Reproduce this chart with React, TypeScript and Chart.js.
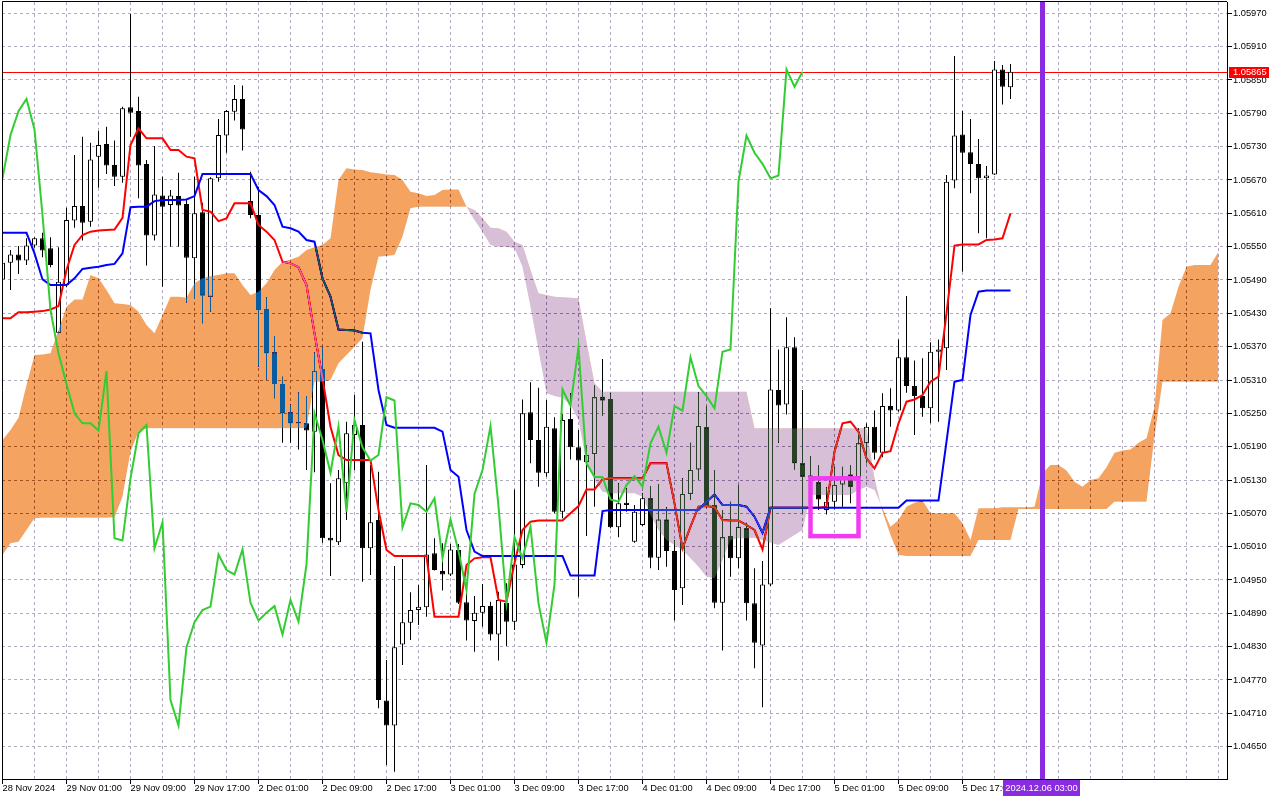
import React, { useEffect, useRef } from 'react';
import { Chart, registerables } from 'chart.js';

// EURUSD H1, bars from 28 Nov 17:00 to 5 Dec 23:00, Ichimoku Kinko Hyo (9, 26, 52)
const timeLabels = [
  '28 Nov 2024', '29 Nov 01:00', '29 Nov 09:00', '29 Nov 17:00', '2 Dec 01:00', '2 Dec 09:00',
  '2 Dec 17:00', '3 Dec 01:00', '3 Dec 09:00', '3 Dec 17:00', '4 Dec 01:00', '4 Dec 09:00',
  '4 Dec 17:00', '5 Dec 01:00', '5 Dec 09:00', '5 Dec 17:00',
];
const LABEL_EVERY = 8; // bars between time labels
const GRID_EVERY = 4; // bars between vertical grid lines

const priceTicks = [
  1.0465, 1.0471, 1.0477, 1.0483, 1.0489, 1.0495, 1.0501, 1.0507, 1.0513, 1.0519, 1.0525, 1.0531,
  1.0537, 1.0543, 1.0549, 1.0555, 1.0561, 1.0567, 1.0573, 1.0579, 1.0585, 1.0591, 1.0597,
];

const opens = [
  1.05491, 1.05521, 1.05536, 1.05525, 1.05552, 1.05565, 1.05547, 1.05395, 1.05481, 1.05597,
  1.05623, 1.05595, 1.05712, 1.05735, 1.05697, 1.05676, 1.05801, 1.05794, 1.05699, 1.05570,
  1.05642, 1.05625, 1.05641, 1.05627, 1.05529, 1.05612, 1.05460, 1.05673, 1.05750, 1.05793,
  1.05816, 1.05632, 1.05607, 1.05438, 1.05360, 1.05303, 1.05252, 1.05234, 1.05232, 1.05217,
  1.05330, 1.05026, 1.05018, 1.05124, 1.05211, 1.05229, 1.05007, 1.05058, 1.04733, 1.04688,
  1.04834, 1.04873, 1.04896, 1.04901, 1.04998, 1.04966, 1.04960, 1.05004, 1.04910, 1.04876,
  1.04891, 1.04903, 1.04852, 1.04909, 1.04875, 1.04977, 1.05252, 1.05202, 1.05142, 1.05223,
  1.05073, 1.05240, 1.05189, 1.05162, 1.05177, 1.05280, 1.05276, 1.05045, 1.05089, 1.05019,
  1.05049, 1.05097, 1.04990, 1.05059, 1.05002, 1.04935, 1.05105, 1.05149, 1.05225, 1.05085,
  1.04909, 1.05029, 1.04989, 1.05043, 1.04908, 1.04832, 1.04942, 1.05292, 1.05266, 1.05369,
  1.05160, 1.05138, 1.05126, 1.05076, 1.05091, 1.05122, 1.05140, 1.05135, 1.05196, 1.05226,
  1.05179, 1.05263, 1.05255, 1.05351, 1.05299, 1.05281, 1.05259, 1.05361, 1.05367, 1.05669,
  1.05752, 1.05720, 1.05699, 1.05673, 1.05680, 1.05869, 1.05837,
];
const highs = [
  1.05535, 1.05544, 1.05551, 1.05565, 1.05567, 1.05575, 1.05567, 1.05549, 1.05620, 1.05715,
  1.05748, 1.05737, 1.05758, 1.05766, 1.05741, 1.05802, 1.05969, 1.05820, 1.05706, 1.05731,
  1.05676, 1.05652, 1.05683, 1.05634, 1.05676, 1.05629, 1.05675, 1.05780, 1.05796, 1.05841,
  1.05840, 1.05685, 1.05658, 1.05459, 1.05389, 1.05316, 1.05266, 1.05288, 1.05281, 1.05360,
  1.05370, 1.05124, 1.05148, 1.05235, 1.05283, 1.05379, 1.05157, 1.05145, 1.04806, 1.04975,
  1.04988, 1.04928, 1.04941, 1.05157, 1.05025, 1.05016, 1.05015, 1.05015, 1.04933, 1.04921,
  1.04943, 1.04911, 1.04929, 1.04944, 1.05113, 1.05275, 1.05306, 1.05296, 1.05274, 1.05243,
  1.05249, 1.05286, 1.05220, 1.05193, 1.05300, 1.05348, 1.05286, 1.05124, 1.05115, 1.05085,
  1.05106, 1.05119, 1.05123, 1.05081, 1.05022, 1.05133, 1.05197, 1.05288, 1.05263, 1.05148,
  1.05076, 1.05091, 1.05121, 1.05053, 1.04971, 1.04984, 1.05439, 1.05365, 1.05423, 1.05387,
  1.05292, 1.05173, 1.05156, 1.05117, 1.05153, 1.05154, 1.05156, 1.05223, 1.05232, 1.05255,
  1.05286, 1.05295, 1.05383, 1.05461, 1.05345, 1.05349, 1.05378, 1.05383, 1.05679, 1.05893,
  1.05794, 1.05780, 1.05744, 1.05695, 1.05884, 1.05877, 1.05879,
];
const lows = [
  1.05472, 1.05472, 1.05501, 1.05517, 1.05548, 1.05531, 1.05513, 1.05394, 1.05477, 1.05584,
  1.05561, 1.05586, 1.05656, 1.05681, 1.05659, 1.05665, 1.05748, 1.05637, 1.05516, 1.05561,
  1.05478, 1.05550, 1.05550, 1.05449, 1.05456, 1.05412, 1.05433, 1.05667, 1.05719, 1.05777,
  1.05723, 1.05601, 1.05334, 1.05310, 1.05277, 1.05197, 1.05197, 1.05185, 1.05148, 1.05144,
  1.05017, 1.04957, 1.05013, 1.05058, 1.05148, 1.04947, 1.04959, 1.04719, 1.04617, 1.04605,
  1.04797, 1.04842, 1.04869, 1.04884, 1.04967, 1.04931, 1.04957, 1.04907, 1.04841, 1.04821,
  1.04866, 1.04841, 1.04805, 1.04831, 1.04860, 1.04971, 1.05160, 1.05118, 1.05136, 1.05070,
  1.05061, 1.05167, 1.04920, 1.05029, 1.05082, 1.05246, 1.05043, 1.05027, 1.05073, 1.05017,
  1.05047, 1.04971, 1.04968, 1.04974, 1.04877, 1.04905, 1.05094, 1.05130, 1.05079, 1.04899,
  1.04823, 1.04956, 1.04971, 1.04877, 1.04791, 1.04721, 1.04939, 1.05197, 1.05248, 1.05149,
  1.05070, 1.05130, 1.05076, 1.05068, 1.05077, 1.05082, 1.05088, 1.05132, 1.05160, 1.05167,
  1.05171, 1.05226, 1.05253, 1.05287, 1.05211, 1.05244, 1.05232, 1.05235, 1.05328, 1.05655,
  1.05505, 1.05646, 1.05574, 1.05565, 1.05679, 1.05806, 1.05816,
];
const closes = [
  1.05521, 1.05536, 1.05525, 1.05552, 1.05565, 1.05543, 1.05517, 1.05487, 1.05598, 1.05623,
  1.05593, 1.05707, 1.05733, 1.05696, 1.05676, 1.05799, 1.05791, 1.05696, 1.05570, 1.05644,
  1.05622, 1.05642, 1.05624, 1.05530, 1.05610, 1.05462, 1.05673, 1.05751, 1.05794, 1.05816,
  1.05761, 1.05607, 1.05436, 1.05358, 1.05303, 1.05250, 1.05232, 1.05232, 1.05219, 1.05326,
  1.05025, 1.05021, 1.05133, 1.05214, 1.05229, 1.05007, 1.05054, 1.04734, 1.04688, 1.04829,
  1.04874, 1.04896, 1.04902, 1.04996, 1.04968, 1.04960, 1.05005, 1.04909, 1.04877, 1.04891,
  1.04903, 1.04852, 1.04914, 1.04875, 1.04978, 1.05250, 1.05202, 1.05143, 1.05226, 1.05073,
  1.05238, 1.05189, 1.05165, 1.05175, 1.05279, 1.05273, 1.05045, 1.05088, 1.05085, 1.05073,
  1.05097, 1.04990, 1.05059, 1.05002, 1.04932, 1.05105, 1.05148, 1.05227, 1.05083, 1.04909,
  1.05027, 1.04989, 1.05046, 1.04908, 1.04837, 1.04942, 1.05293, 1.05264, 1.05369, 1.05160,
  1.05136, 1.05135, 1.05095, 1.05091, 1.05121, 1.05137, 1.05118, 1.05196, 1.05226, 1.05179,
  1.05263, 1.05255, 1.05351, 1.05299, 1.05281, 1.05259, 1.05361, 1.05365, 1.05667, 1.05750,
  1.05719, 1.05699, 1.05673, 1.05678, 1.05869, 1.05838, 1.05865,
];

const tenkan = [
  1.05421, 1.05421, 1.05432, 1.05432, 1.05433, 1.05434, 1.05437, 1.05443, 1.05508, 1.05553,
  1.05571, 1.05577, 1.05579, 1.05580, 1.05581, 1.05602, 1.05733, 1.05763, 1.05745, 1.05745,
  1.05745, 1.05724, 1.05724, 1.05712, 1.05709, 1.05616, 1.05613, 1.05596, 1.05601, 1.05628,
  1.05628, 1.05628, 1.05589, 1.05577, 1.05562, 1.05523, 1.05520, 1.05513, 1.05481, 1.05394,
  1.05313, 1.05226, 1.05175, 1.05166, 1.05166, 1.05166, 1.05166, 1.05076, 1.05004, 1.04993,
  1.04993, 1.04993, 1.04993, 1.04993, 1.04884, 1.04884, 1.04884, 1.04884, 1.04977, 1.04989,
  1.04991, 1.04991, 1.04914, 1.04911, 1.04980, 1.05040, 1.05055, 1.05057, 1.05057, 1.05057,
  1.05057, 1.05070, 1.05083, 1.05113, 1.05113, 1.05131, 1.05133, 1.05133, 1.05133, 1.05133,
  1.05133, 1.05160, 1.05160, 1.05160, 1.05088, 1.05007, 1.05046, 1.05082, 1.05083, 1.05081,
  1.05058, 1.05057, 1.05057, 1.05049, 1.05040, 1.05005, 1.05080, 1.05080, 1.05080, 1.05080,
  1.05080, 1.05080, 1.05080, 1.05082, 1.05181, 1.05232, 1.05235, 1.05217, 1.05169, 1.05151,
  1.05179, 1.05182, 1.05232, 1.05271, 1.05275, 1.05283, 1.05307, 1.05316, 1.05430, 1.05552,
  1.05554, 1.05554, 1.05554, 1.05562, 1.05563, 1.05565, 1.05610,
];
const kijun = [
  1.05575, 1.05575, 1.05575, 1.05575, 1.05538, 1.05491, 1.05481, 1.05481, 1.05481, 1.05493,
  1.05510, 1.05512, 1.05514, 1.05517, 1.05519, 1.05538, 1.05621, 1.05622, 1.05622, 1.05632,
  1.05634, 1.05634, 1.05634, 1.05635, 1.05641, 1.05681, 1.05681, 1.05681, 1.05681, 1.05681,
  1.05681, 1.05681, 1.05652, 1.05641, 1.05625, 1.05586, 1.05583, 1.05577, 1.05562, 1.05559,
  1.05493, 1.05460, 1.05401, 1.05400, 1.05399, 1.05395, 1.05394, 1.05292, 1.05229, 1.05224,
  1.05224, 1.05224, 1.05224, 1.05224, 1.05224, 1.05217, 1.05148, 1.05136, 1.05040, 1.05001,
  1.04993, 1.04993, 1.04993, 1.04993, 1.04993, 1.04993, 1.04993, 1.04993, 1.04993, 1.04993,
  1.04993, 1.04958, 1.04958, 1.04958, 1.04958, 1.05074, 1.05076, 1.05076, 1.05076, 1.05076,
  1.05076, 1.05076, 1.05076, 1.05076, 1.05076, 1.05076, 1.05076, 1.05076, 1.05091, 1.05104,
  1.05085, 1.05085, 1.05085, 1.05082, 1.05064, 1.05035, 1.05080, 1.05080, 1.05080, 1.05080,
  1.05080, 1.05080, 1.05080, 1.05080, 1.05080, 1.05080, 1.05080, 1.05080, 1.05080, 1.05080,
  1.05080, 1.05080, 1.05080, 1.05093, 1.05093, 1.05093, 1.05093, 1.05093, 1.05199, 1.05307,
  1.05310, 1.05427, 1.05469, 1.05471, 1.05471, 1.05471, 1.05471,
];
// cloud runs 26 bars past the last candle
const spanA = [
  1.05202, 1.05220, 1.05242, 1.05301, 1.05355, 1.05356, 1.05358, 1.05400, 1.05442, 1.05455,
  1.05455, 1.05499, 1.05493, 1.05472, 1.05448, 1.05447, 1.05445, 1.05433, 1.05409, 1.05394,
  1.05427, 1.05460, 1.05460, 1.05458, 1.05484, 1.05493, 1.05497, 1.05499, 1.05502, 1.05502,
  1.05481, 1.05463, 1.05469, 1.05484, 1.05508, 1.05523, 1.05527, 1.05532, 1.05544, 1.05549,
  1.05553, 1.05565, 1.05670, 1.05691, 1.05689, 1.05688, 1.05684, 1.05682, 1.05680, 1.05679,
  1.05670, 1.05649, 1.05646, 1.05641, 1.05643, 1.05652, 1.05653, 1.05653, 1.05622, 1.05598,
  1.05577, 1.05553, 1.05550, 1.05550, 1.05547, 1.05514, 1.05442, 1.05364, 1.05286, 1.05281,
  1.05278, 1.05265, 1.05238, 1.05161, 1.05130, 1.05109, 1.05106, 1.05106, 1.05106, 1.05106,
  1.05100, 1.05067, 1.05040, 1.05022, 1.05013, 1.05004, 1.04989, 1.04974, 1.04956, 1.04953,
  1.04986, 1.05022, 1.05025, 1.05025, 1.05026, 1.05022, 1.05017, 1.05013, 1.05022, 1.05031,
  1.05040, 1.05103, 1.05103, 1.05103, 1.05103, 1.05103, 1.05103, 1.05112, 1.05118, 1.05112,
  1.05079, 1.05046, 1.05058, 1.05082, 1.05089, 1.05093, 1.05070, 1.05070, 1.05070, 1.05070,
  1.05052, 1.05022, 1.05079, 1.05079, 1.05079, 1.05081, 1.05081, 1.05081, 1.05081, 1.05082,
  1.05142, 1.05157, 1.05157, 1.05147, 1.05127, 1.05118, 1.05130, 1.05133, 1.05153, 1.05179,
  1.05183, 1.05185, 1.05197, 1.05205, 1.05262, 1.05418, 1.05430, 1.05478, 1.05514, 1.05517,
  1.05517, 1.05517, 1.05541,
];
const spanB = [
  1.04995, 1.05016, 1.05019, 1.05040, 1.05061, 1.05062, 1.05062, 1.05062, 1.05062, 1.05062,
  1.05062, 1.05062, 1.05062, 1.05062, 1.05063, 1.05100, 1.05181, 1.05217, 1.05223, 1.05223,
  1.05223, 1.05223, 1.05223, 1.05223, 1.05223, 1.05223, 1.05223, 1.05223, 1.05223, 1.05223,
  1.05223, 1.05223, 1.05223, 1.05223, 1.05223, 1.05223, 1.05223, 1.05223, 1.05223, 1.05307,
  1.05307, 1.05310, 1.05340, 1.05355, 1.05370, 1.05385, 1.05472, 1.05532, 1.05533, 1.05535,
  1.05568, 1.05619, 1.05622, 1.05622, 1.05622, 1.05622, 1.05622, 1.05622, 1.05622, 1.05616,
  1.05601, 1.05584, 1.05583, 1.05577, 1.05559, 1.05553, 1.05508, 1.05466, 1.05463, 1.05460,
  1.05459, 1.05458, 1.05457, 1.05379, 1.05304, 1.05289, 1.05289, 1.05289, 1.05289, 1.05289,
  1.05289, 1.05289, 1.05289, 1.05289, 1.05289, 1.05289, 1.05289, 1.05289, 1.05289, 1.05289,
  1.05289, 1.05289, 1.05289, 1.05289, 1.05223, 1.05223, 1.05223, 1.05223, 1.05223, 1.05223,
  1.05223, 1.05223, 1.05223, 1.05223, 1.05223, 1.05223, 1.05223, 1.05223, 1.05223, 1.05133,
  1.05073, 1.05031, 1.04995, 1.04993, 1.04993, 1.04993, 1.04993, 1.04993, 1.04993, 1.04993,
  1.04993, 1.04993, 1.05022, 1.05022, 1.05022, 1.05022, 1.05022, 1.05078, 1.05078, 1.05078,
  1.05078, 1.05078, 1.05078, 1.05078, 1.05078, 1.05078, 1.05078, 1.05078, 1.05078, 1.05091,
  1.05091, 1.05091, 1.05091, 1.05091, 1.05208, 1.05307, 1.05307, 1.05307, 1.05307, 1.05307,
  1.05307, 1.05307, 1.05307,
];
const CHIKOU_SHIFT = 26; // chikou = close plotted 26 bars back

const bidPrice = 1.05865;
const markerBar = 130;
const markerLabel = '2024.12.06 03:00';
const boxBars = [101, 107];
const boxPrices = [1.05133, 1.05029];

// visible window (bar index / price)
const X_MIN = -0.0625;
const X_MAX = 153.0625;
const Y_MIN = 1.045918;
const Y_MAX = 1.059904;

const FONT_FAMILY = '"Liberation Sans", Arial, sans-serif';
const FONT_SIZE = 9.3;
const GRID = 'rgb(176, 170, 188)';
// cloud is painted with 'difference' like the terminal's XOR fill:
// on white these come out as SandyBrown / Thistle
const CLOUD_UP = 'rgb(11, 91, 159)';
const CLOUD_DOWN = 'rgb(39, 64, 39)';

const gridBars = Array.from({ length: Math.floor(X_MAX / GRID_EVERY) + 1 }, (_, i) => i * GRID_EVERY);

const labelAt = (v: number) => {
  if (v % LABEL_EVERY !== 0) return '';
  return timeLabels[v / LABEL_EVERY] || '';
};

const cloudBlend = {
  id: 'cloudBlend',
  beforeDraw(chart: any) {
    const { ctx, width, height } = chart;
    ctx.save();
    ctx.fillStyle = '#ffffff';
    ctx.fillRect(0, 0, width, height);
    ctx.restore();
  },
  beforeDatasetDraw(chart: any, args: any) {
    if (chart.data.datasets[args.index]?.label === 'Senkou Span A') {
      chart.ctx.globalCompositeOperation = 'difference';
    }
  },
  afterDatasetDraw(chart: any, args: any) {
    if (chart.data.datasets[args.index]?.label === 'Senkou Span A') {
      chart.ctx.globalCompositeOperation = 'source-over';
    }
  },
};
// must come before the Filler so the blend mode is set when the cloud is filled
Chart.register(cloudBlend);
Chart.register(...registerables);

const overlays = {
  id: 'overlays',
  beforeDatasetsDraw(chart: any) {
    const { ctx, chartArea: a, scales: { y } } = chart;
    const py = Math.round(y.getPixelForValue(bidPrice)) + 0.5;
    ctx.save();
    ctx.strokeStyle = '#ff0000';
    ctx.lineWidth = 1;
    ctx.beginPath();
    ctx.moveTo(a.left, py);
    ctx.lineTo(a.right, py);
    ctx.stroke();
    ctx.restore();
  },
  afterDatasetsDraw(chart: any) {
    const { ctx, chartArea: a, scales: { x, y } } = chart;
    ctx.save();
    const x1 = x.getPixelForValue(boxBars[0]);
    const x2 = x.getPixelForValue(boxBars[1]);
    const y1 = y.getPixelForValue(boxPrices[0]);
    const y2 = y.getPixelForValue(boxPrices[1]);
    ctx.strokeStyle = '#f03cf0';
    ctx.lineWidth = 4.5;
    ctx.strokeRect(x1, y1, x2 - x1, y2 - y1);

    const mx = x.getPixelForValue(markerBar);
    ctx.fillStyle = '#8a2be2';
    ctx.fillRect(mx - 2.5, a.top, 5, a.bottom - a.top);
    ctx.restore();
  },
  afterDraw(chart: any) {
    const { ctx, chartArea: a, scales: { x, y } } = chart;
    ctx.save();
    // top and left frame (right/bottom come from the axes)
    ctx.strokeStyle = '#000000';
    ctx.lineWidth = 1;
    ctx.beginPath();
    ctx.moveTo(a.left + 0.5, a.bottom);
    ctx.lineTo(a.left + 0.5, a.top - 0.5);
    ctx.lineTo(a.right, a.top - 0.5);
    ctx.stroke();

    ctx.font = `${FONT_SIZE}px ${FONT_FAMILY}`;
    ctx.textBaseline = 'middle';

    // bid price tag
    const by = y.getPixelForValue(bidPrice);
    ctx.fillStyle = '#ff0000';
    ctx.fillRect(a.right + 2, Math.round(by) - 5, 40, 11);
    ctx.fillStyle = '#ffffff';
    ctx.textAlign = 'left';
    ctx.fillText(bidPrice.toFixed(5), a.right + 6, by + 0.5);

    // time tag of the vertical marker
    const mx = x.getPixelForValue(markerBar);
    ctx.fillStyle = '#8a2be2';
    ctx.fillRect(Math.round(mx) - 40, a.bottom + 1, 77, 16);
    ctx.fillStyle = '#ffffff';
    ctx.textAlign = 'center';
    ctx.fillText(markerLabel, mx - 1, a.bottom + 9.5);
    ctx.restore();
  },
};

export default function App() {
  const canvasRef = useRef<HTMLCanvasElement>(null);
  const chartRef = useRef<Chart | null>(null);

  useEffect(() => {
    if (!canvasRef.current) return;
    if (chartRef.current) {
      chartRef.current.destroy();
    }

    const bars = opens.map((_, i) => i);
    const font = { family: FONT_FAMILY, size: FONT_SIZE };

    chartRef.current = new Chart(canvasRef.current, {
      type: 'line',
      data: {
        datasets: [
          {
            type: 'bar',
            label: 'Wicks',
            data: bars.map((i) => ({ x: i, y: [lows[i], highs[i]] })),
            backgroundColor: '#000000',
            borderWidth: 0,
            barThickness: 1,
            grouped: false,
            inflateAmount: 0,
            order: 10,
          },
          {
            type: 'bar',
            label: 'Bodies',
            data: bars.map((i) => ({ x: i, y: [opens[i], closes[i]] })),
            backgroundColor: bars.map((i) => (closes[i] >= opens[i] ? '#ffffff' : '#000000')),
            borderColor: '#000000',
            borderWidth: 1,
            borderSkipped: false,
            barThickness: 5,
            grouped: false,
            inflateAmount: 0,
            order: 9,
          },
          {
            label: 'Tenkan-sen',
            data: tenkan.map((y, i) => ({ x: i, y })),
            borderColor: '#ff0000',
            borderWidth: 2,
            pointRadius: 0,
            tension: 0,
            fill: false,
            order: 8,
          },
          {
            label: 'Kijun-sen',
            data: kijun.map((y, i) => ({ x: i, y })),
            borderColor: '#0000ff',
            borderWidth: 2,
            pointRadius: 0,
            tension: 0,
            fill: false,
            order: 7,
          },
          {
            label: 'Senkou Span B',
            data: spanB.map((y, i) => ({ x: i, y })),
            borderWidth: 0,
            pointRadius: 0,
            tension: 0,
            fill: false,
            order: 6,
          },
          {
            label: 'Senkou Span A',
            data: spanA.map((y, i) => ({ x: i, y })),
            borderWidth: 0,
            pointRadius: 0,
            tension: 0,
            fill: { target: 4, above: CLOUD_UP, below: CLOUD_DOWN },
            order: 5,
          },
          {
            label: 'Chikou Span',
            data: closes.slice(CHIKOU_SHIFT).map((y, i) => ({ x: i, y })),
            borderColor: '#32cd32',
            borderWidth: 2,
            pointRadius: 0,
            tension: 0,
            fill: false,
            order: 4,
          },
        ],
      },
      options: {
        responsive: false,
        animation: false,
        devicePixelRatio: 1,
        events: [],
        layout: { padding: { left: 2, top: 2, right: 0, bottom: 0 } },
        plugins: {
          legend: { display: false },
          tooltip: { enabled: false },
          title: { display: false },
        },
        scales: {
          x: {
            type: 'linear',
            min: X_MIN,
            max: X_MAX,
            offset: false,
            afterBuildTicks: (s: any) => {
              s.ticks = gridBars.map((value) => ({ value }));
            },
            afterFit: (s: any) => {
              s.height = 21;
              s.paddingLeft = 0;
              s.paddingRight = 0;
            },
            grid: {
              color: GRID,
              lineWidth: 1,
              offset: false,
              drawTicks: true,
              tickLength: 5,
              tickWidth: 1,
              tickColor: (c: any) => (c.tick && labelAt(c.tick.value) ? '#000000' : 'rgba(0,0,0,0)'),
            },
            border: { display: true, color: '#000000', width: 1, dash: [3, 3] },
            ticks: {
              autoSkip: false,
              maxRotation: 0,
              minRotation: 0,
              align: 'start',
              padding: -1,
              color: '#000000',
              font,
              callback: (v: any) => labelAt(Number(v)),
            },
          },
          y: {
            type: 'linear',
            position: 'right',
            min: Y_MIN,
            max: Y_MAX,
            beginAtZero: false,
            afterBuildTicks: (s: any) => {
              s.ticks = priceTicks.map((value) => ({ value }));
            },
            afterFit: (s: any) => {
              s.width = 53;
              s.paddingTop = 0;
              s.paddingBottom = 0;
            },
            grid: {
              color: GRID,
              lineWidth: 1,
              drawTicks: true,
              tickLength: 5,
              tickWidth: 1,
              tickColor: '#000000',
            },
            border: { display: true, color: '#000000', width: 1, dash: [3, 3] },
            ticks: {
              padding: 1,
              color: '#000000',
              font,
              callback: (v: any) => Number(v).toFixed(5),
            },
          },
        },
      },
      plugins: [overlays],
    } as any);

    return () => {
      if (chartRef.current) {
        chartRef.current.destroy();
        chartRef.current = null;
      }
    };
  }, []);

  return (
    <div style={{ position: 'absolute', left: 0, top: 0, width: 1280, height: 800, background: '#ffffff' }}>
      <canvas ref={canvasRef} width={1280} height={800} style={{ display: 'block' }} />
    </div>
  );
}
